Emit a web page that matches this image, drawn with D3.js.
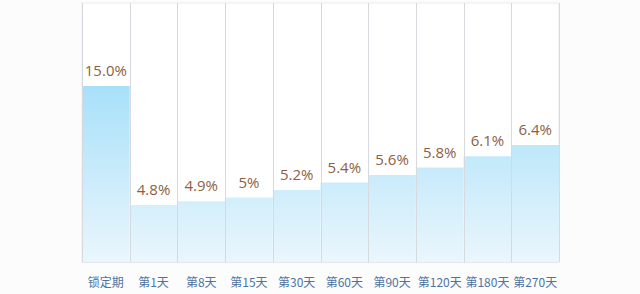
<!DOCTYPE html>
<html>
<head>
<meta charset="utf-8">
<script src="https://cdn.jsdelivr.net/npm/d3@7"></script>
<style>
  body { margin: 0; background: #fcfcfc; }
  svg { display: block; }
</style>
</head>
<body>
<svg></svg>
<script>
// Dimension constants
const WIDTH = 640;
const HEIGHT = 294;
const LEFT = 82;
const RIGHT = 559;
const TOP = 3;
const BASE = 262;

// data
const categories = ['锁定期', '第1天', '第8天', '第15天', '第30天', '第60天', '第90天', '第120天', '第180天', '第270天'];
const rates = [15.0, 4.8, 4.9, 5, 5.2, 5.4, 5.6, 5.8, 6.1, 6.4];
// labels as printed on the chart (5% has no decimal)
const printed = ['15.0%', '4.8%', '4.9%', '5%', '5.2%', '5.4%', '5.6%', '5.8%', '6.1%', '6.4%'];

const svg = d3.select('svg')
    .attr('width', WIDTH)
    .attr('height', HEIGHT);

// gradient for bars
const defs = svg.append('defs');
const grad = defs.append('linearGradient')
    .attr('id', 'barGrad')
    .attr('gradientUnits', 'userSpaceOnUse')
    .attr('x1', 0).attr('y1', 86)
    .attr('x2', 0).attr('y2', BASE);
grad.append('stop').attr('offset', '0%').attr('stop-color', '#a8e0f9');
grad.append('stop').attr('offset', '100%').attr('stop-color', '#eaf6fd');

const x = d3.scaleBand()
    .domain(categories)
    .range([LEFT, RIGHT])
    .padding(0);

// the first bar is drawn on a compressed segment of the scale
const y = d3.scaleLinear()
    .domain([3.28, 6.4, 15])
    .range([BASE, 145, 86]);

// plot background
svg.append('rect')
    .attr('x', LEFT)
    .attr('y', TOP)
    .attr('width', RIGHT - LEFT)
    .attr('height', BASE - TOP)
    .attr('fill', '#ffffff')
    .attr('stroke', '#ececec');

// bars
svg.selectAll('.bar')
    .data(rates).enter().append('rect')
    .attr('class', 'bar')
    .attr('x', (d, i) => x(categories[i]))
    .attr('y', d => y(d))
    .attr('width', x.bandwidth())
    .attr('height', d => BASE - y(d))
    .attr('fill', 'url(#barGrad)');

// separators
svg.selectAll('.sep')
    .data(d3.range(categories.length + 1)).enter().append('line')
    .attr('class', 'sep')
    .attr('x1', i => Math.round(LEFT + i * x.step()) + 0.5)
    .attr('x2', i => Math.round(LEFT + i * x.step()) + 0.5)
    .attr('y1', TOP)
    .attr('y2', BASE)
    .attr('stroke', '#d6d9dd')
    .attr('stroke-width', 1);

// baseline
svg.append('line')
    .attr('x1', LEFT).attr('x2', RIGHT)
    .attr('y1', BASE + 0.5).attr('y2', BASE + 0.5)
    .attr('stroke', '#e4e8ec');

// value labels
svg.selectAll('.value')
    .data(rates).enter().append('text')
    .attr('class', 'value')
    .attr('text-anchor', 'middle')
    .attr('font-family', 'Open Sans, sans-serif')
    .attr('font-size', 15)
    .attr('fill', '#8c5f45')
    .attr('x', (d, i) => x(categories[i]) + x.bandwidth() / 2)
    .attr('y', d => y(d) - 10)
    .text((d, i) => printed[i]);

// category labels
svg.selectAll('.cat')
    .data(categories).enter().append('text')
    .attr('class', 'cat')
    .attr('text-anchor', 'middle')
    .attr('font-family', 'Noto Sans CJK SC, sans-serif')
    .attr('font-size', 12)
    .attr('fill', '#4f73a0')
    .attr('x', d => x(d) + x.bandwidth() / 2)
    .attr('y', 287)
    .text(d => d);
</script>
</body>
</html>
